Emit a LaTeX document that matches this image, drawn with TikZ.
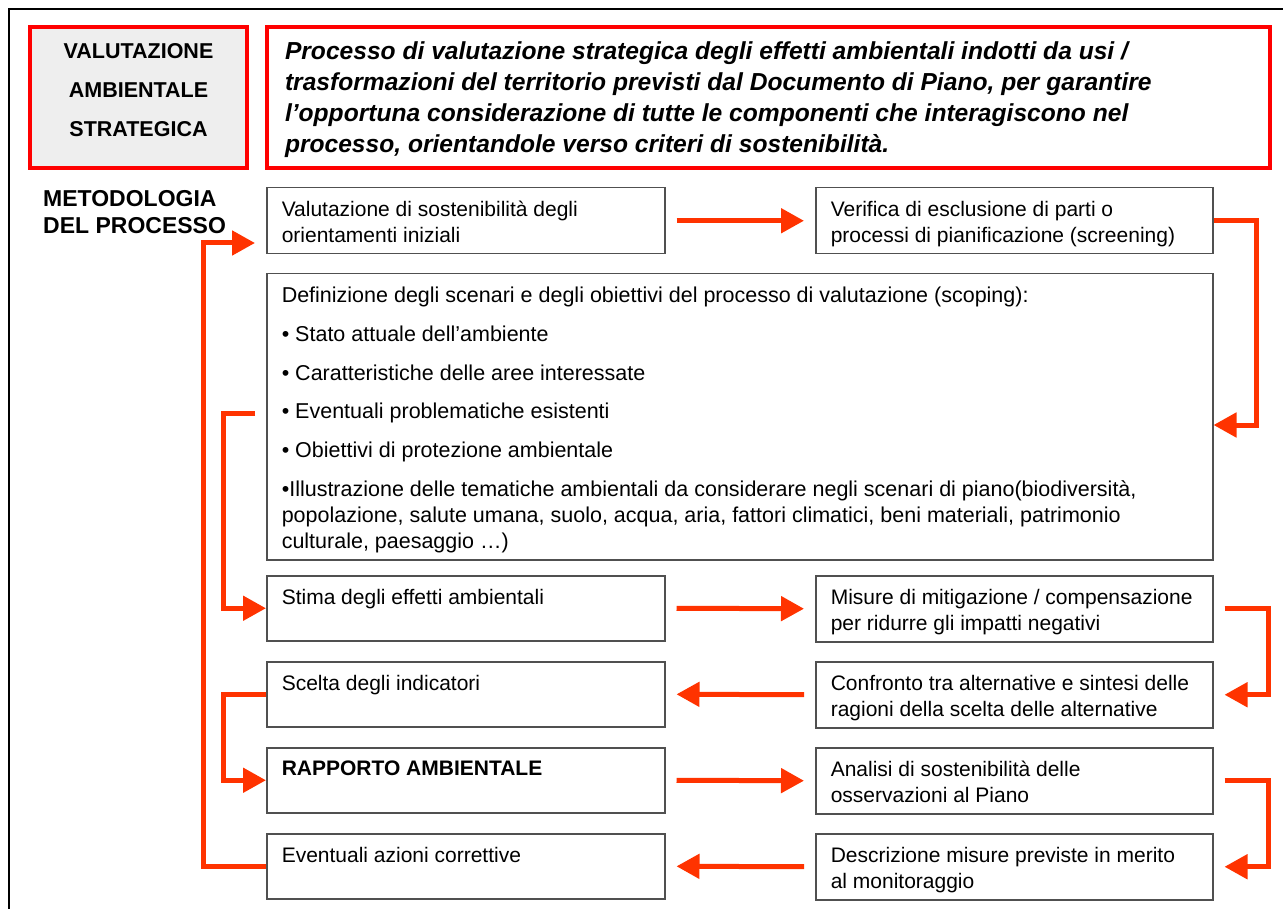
\documentclass[tikz,border=0pt]{standalone}
\usepackage{fontspec}
\setmainfont{Liberation Sans}
\usetikzlibrary{arrows.meta,calc}
\definecolor{arr}{RGB}{255,51,0}
\definecolor{boxgray}{RGB}{80,80,80}
\definecolor{titlered}{RGB}{255,0,0}
\definecolor{fillgray}{RGB}{238,238,238}
\newcommand{\boxtext}[3]{\parbox[c][#2][t]{#1}{\raggedright #3}}
\begin{document}
\begin{tikzpicture}[x=1pt,y=-1pt,
  stepbox/.style={draw=boxgray, line width=1.5pt, anchor=north west, inner xsep=15pt, inner ysep=13.5pt, font=\fontsize{21}{26}\selectfont},
  redbox/.style={draw=titlered, line width=4pt, anchor=north west},
  conn/.style={draw=arr, line width=5pt},
  tip/.style={-{Triangle[width=24pt,length=23pt]}},
]
\useasboundingbox (0,0) rectangle (1283,909);
% outer frame
\draw[line width=2.5pt] (1283,9) -- (9,9) -- (9,909);

% title boxes
\node[redbox, fill=fillgray, inner xsep=0pt, inner ysep=16pt, font=\bfseries\fontsize{21.5}{39}\selectfont] (vas) at (28,25)
  {\parbox[c][109pt][t]{217pt}{\centering VALUTAZIONE\\AMBIENTALE\\STRATEGICA}};
\node[redbox, inner xsep=18pt, inner ysep=15pt, font=\bfseries\itshape\fontsize{24.6}{31}\selectfont] (def) at (265,25)
  {\parbox[c][111pt][t]{967pt}{\raggedright Processo di valutazione strategica degli effetti ambientali indotti da usi /\\
  trasformazioni del territorio previsti dal Documento di Piano, per garantire\\
  l’opportuna considerazione di tutte le componenti che interagiscono nel\\
  processo, orientandole verso criteri di sostenibilità.}};

\node[anchor=north west, inner sep=0pt, align=left, font=\bfseries\fontsize{23}{27}\selectfont] (met) at (43,190)
  {METODOLOGIA\\DEL PROCESSO};

% step boxes
\node[stepbox] (a) at (266,187) {\boxtext{368pt}{39pt}{Valutazione di sostenibilità degli\\orientamenti iniziali}};
\node[stepbox] (b) at (815,187) {\boxtext{367pt}{39pt}{Verifica di esclusione di parti o\\processi di pianificazione (screening)}};
\node[stepbox, font=\fontsize{21.5}{26}\selectfont] (big) at (266,273) {\boxtext{916pt}{259pt}{Definizione degli scenari e degli obiettivi del processo di valutazione (scoping):\\[12.7pt]
  • Stato attuale dell’ambiente\\[12.7pt]
  • Caratteristiche delle aree interessate\\[12.7pt]
  • Eventuali problematiche esistenti\\[12.7pt]
  • Obiettivi di protezione ambientale\\[12.7pt]
  •Illustrazione delle tematiche ambientali da considerare negli scenari di piano(biodiversità,\\
  popolazione, salute umana, suolo, acqua, aria, fattori climatici, beni materiali, patrimonio\\
  culturale, paesaggio …)}};
\node[stepbox] (stima) at (266,575) {\boxtext{368pt}{38pt}{Stima degli effetti ambientali}};
\node[stepbox] (scelta) at (266,661) {\boxtext{368pt}{38pt}{Scelta degli indicatori}};
\node[stepbox] (rapp) at (266,747) {\boxtext{368pt}{38pt}{\textbf{RAPPORTO AMBIENTALE}}};
\node[stepbox] (event) at (266,833) {\boxtext{368pt}{38pt}{Eventuali azioni correttive}};
\node[stepbox] (mis) at (815,575) {\boxtext{367pt}{39pt}{Misure di mitigazione / compensazione\\per ridurre gli impatti negativi}};
\node[stepbox] (conf) at (815,661) {\boxtext{367pt}{39pt}{Confronto tra alternative e sintesi delle\\ragioni della scelta delle alternative}};
\node[stepbox] (ana) at (815,747) {\boxtext{367pt}{39pt}{Analisi di sostenibilità delle\\osservazioni al Piano}};
\node[stepbox] (desc) at (815,833) {\boxtext{367pt}{39pt}{Descrizione misure previste in merito\\al monitoraggio}};

% horizontal arrows
\draw[conn,tip,shorten <=11pt,shorten >=11pt] (a.east) -- (b.west);
\draw[conn,tip,shorten <=11pt,shorten >=11pt] (stima.east) -- (mis.west);
\draw[conn,tip,shorten <=11pt,shorten >=11pt] (conf.west) -- (scelta.east);
\draw[conn,tip,shorten <=11pt,shorten >=11pt] (rapp.east) -- (ana.west);
\draw[conn,tip,shorten <=11pt,shorten >=11pt] (desc.west) -- (event.east);

% right connectors
\draw[conn,tip] (b.east) -- ++(43,0) |- (big.east |- {(0,425)});
\draw[conn,tip,shorten <=11pt,shorten >=11pt] (mis.east) -- ++(55,0) |- (conf.east);
\draw[conn,tip,shorten <=11pt,shorten >=11pt] (ana.east) -- ++(55,0) |- (desc.east);

% left connectors
\draw[conn,tip,shorten >=11pt] (event.west) -- ++(-63,0) |- (a.west |- {(0,243)});
\draw[conn,tip,shorten <=11pt] (big.west |- {(0,413)}) -- ++(-43,0) |- (stima.west);
\draw[conn,tip] (scelta.west) -- ++(-43,0) |- (rapp.west);
\end{tikzpicture}
\end{document}
